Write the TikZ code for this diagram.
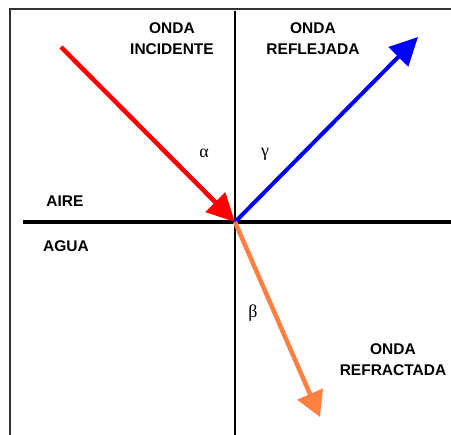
\documentclass[tikz,border=0pt]{standalone}
\usepackage{fontspec}
\setmainfont{Liberation Sans}
\newfontfamily\greekfont{Liberation Serif}
\usetikzlibrary{arrows.meta}
\definecolor{refrorange}{RGB}{255,128,64}
\tikzset{
  lbl/.style={font=\fontsize{15.5}{21}\selectfont\bfseries, align=center, inner sep=0pt},
  grk/.style={font=\fontsize{18}{20}\selectfont\greekfont, inner sep=0pt},
  ray/.style={line width=4.5pt, -{Triangle[length=28pt,width=27pt]}},
}
\begin{document}
\begin{tikzpicture}[x=1pt,y=-1pt]
\useasboundingbox (0,0) rectangle (451,435);
% frame
\draw[line width=1.8pt, black!80] (10,435) -- (10,9) -- (451,9);
% normal and interface
\coordinate (O) at (235,222);
\coordinate (ntop) at (235,11);
\coordinate (nbot) at (235,435);
\coordinate (sl) at (23,222);
\coordinate (sr) at (451,222);
\draw[line width=1.4pt] (ntop) -- (nbot);
\draw[line width=4.2pt] (sl) -- (sr);
% rays
\coordinate (inc) at (61,47);
\coordinate (refl) at (418,37);
\coordinate (refr) at (320,417);
\draw[ray, red] (inc) -- (O);
\draw[ray, blue, line width=4pt] (O) -- (refl);
\draw[line width=4.5pt, refrorange, -{Triangle[length=25pt,width=27pt]}] (O) -- (refr);
% labels
\node[lbl] (tinc) at (172,39) {ONDA\\INCIDENTE};
\node[lbl] (trefl) at (313,39) {ONDA\\REFLEJADA};
\node[lbl] (trefr) at (393,360) {ONDA\\REFRACTADA};
\node[lbl] (taire) at (65,201) {AIRE};
\node[lbl] (tagua) at (66,246) {AGUA};
\node[grk] (ta) at (204,153) {α};
\node[grk] (tg) at (265,154) {γ};
\node[grk] (tb) at (253,313) {β};
\end{tikzpicture}
\end{document}
